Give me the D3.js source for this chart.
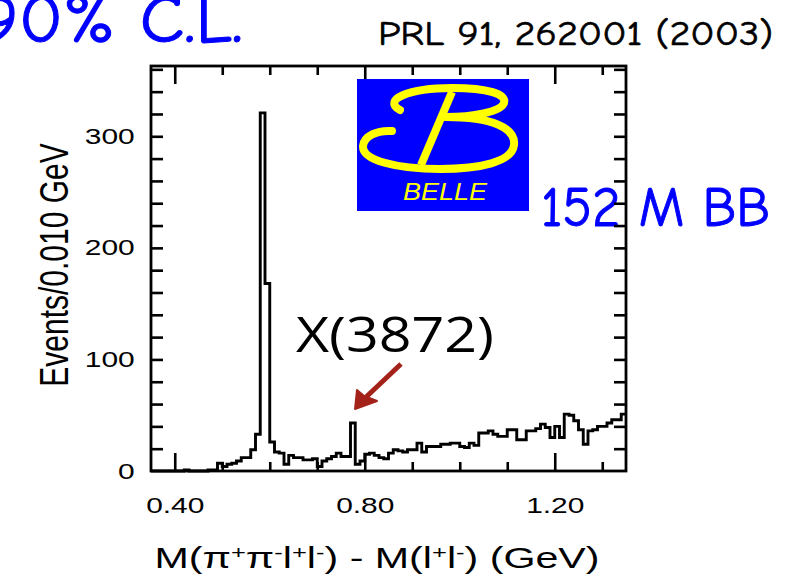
<!DOCTYPE html>
<html>
<head>
<meta charset="utf-8">
<script src="https://cdn.jsdelivr.net/npm/d3@7"></script>
<style>
  html, body { margin: 0; padding: 0; background: #fff; }
  svg { display: block; }
</style>
</head>
<body>
<svg id="chart" width="786" height="577"></svg>
<script>
// Histogram of M(pi+ pi- l+ l-) - M(l+ l-), 10 MeV bins from 0.35 GeV
const binLow = 0.35;
const binWidth = 0.010;
const counts = [
  0, 0, 0, 0, 0, 0, 0, 1, 0, 0,
  0, 0, 1, 1, 7, 4, 6, 7, 9, 12,
  12, 19, 33, 321, 168, 26, 17, 16, 6, 14,
  12, 12, 10, 10, 11, 4, 9, 11, 13, 16,
  13, 13, 43, 6, 9, 15, 16, 14, 12, 11,
  16, 19, 18, 17, 19, 19, 25, 17, 22, 22,
  22, 24, 24, 25, 25, 22, 21, 25, 23, 34,
  34, 36, 33, 31, 31, 37, 37, 28, 28, 36,
  36, 38, 42, 39, 30, 40, 30, 51, 50, 45,
  37, 24, 36, 37, 40, 40, 43, 46, 46, 51
];
const xDomain = [0.35, 1.35];
const yDomain = [0, 363];
const xMajorTicks = [0.40, 0.80, 1.20];
const xMinorTicks = [0.50, 0.60, 0.70, 0.90, 1.00, 1.10, 1.30];
const yLabelTicks = [0, 100, 200, 300];
const yMinorTicks = [20, 40, 60, 80, 100, 120, 140, 160, 180, 200, 220, 240, 260, 280, 300, 320, 340, 360];

const svg = d3.select("#chart");
const plot = { left: 151, right: 626, top: 66, bottom: 471 };
const x = d3.scaleLinear().domain(xDomain).range([plot.left, plot.right]);
const y = d3.scaleLinear().domain(yDomain).range([plot.bottom, plot.top]);
const SX = 1.36;               // horizontal stretch of the plot lettering
const axisFont = "'Liberation Sans', Arial, Helvetica, sans-serif";
const handFont = "'Comic Sans MS', 'Comic Neue', 'Open Sans', sans-serif";

// Slide annotations behind the frame
svg.append("text")
  .attr("x", 243).attr("y", 42)
  .attr("text-anchor", "end")
  .attr("font-family", handFont).attr("font-size", 68)
  .attr("fill", "#0000ff").attr("stroke", "#0000ff").attr("stroke-width", 1)
  .attr("textLength", 263).attr("lengthAdjust", "spacingAndGlyphs")
  .text("90% C.L.");

svg.append("text")
  .attr("x", 378).attr("y", 45)
  .attr("font-family", handFont).attr("font-size", 34)
  .attr("fill", "#000").attr("stroke", "#000").attr("stroke-width", 0.6)
  .attr("textLength", 395).attr("lengthAdjust", "spacingAndGlyphs")
  .text("PRL 91, 262001 (2003)");

svg.append("text")
  .attr("x", 541).attr("y", 226)
  .attr("font-family", handFont).attr("font-size", 56)
  .attr("fill", "#0000ff").attr("stroke", "#0000ff").attr("stroke-width", 1)
  .attr("textLength", 229).attr("lengthAdjust", "spacingAndGlyphs")
  .text("152 M BB");

// Histogram outline
const steps = counts.map((c, i) => [binLow + i * binWidth, c]);
steps.push([binLow + counts.length * binWidth, counts[counts.length - 1]]);
svg.append("path")
  .datum(steps)
  .attr("fill", "none")
  .attr("stroke", "#000")
  .attr("stroke-width", 2.9)
  .attr("d", d3.line().curve(d3.curveStepAfter).x(d => x(d[0])).y(d => y(d[1])));

// Axes: ticks point into the frame on all four sides
function styleAxis(g) {
  g.select(".domain").remove();
  g.selectAll(".tick line").attr("stroke", "#000").attr("stroke-width", 2.6);
}
svg.append("g").attr("transform", `translate(0,${plot.bottom})`)
  .call(d3.axisBottom(x).tickValues(xMinorTicks).tickSize(-9).tickFormat(""))
  .call(styleAxis);
svg.append("g").attr("transform", `translate(0,${plot.top})`)
  .call(d3.axisTop(x).tickValues(xMinorTicks).tickSize(-9).tickFormat(""))
  .call(styleAxis);
svg.append("g").attr("transform", `translate(0,${plot.top})`)
  .call(d3.axisTop(x).tickValues(xMajorTicks).tickSize(-18).tickFormat(""))
  .call(styleAxis);
const xAxis = svg.append("g").attr("transform", `translate(0,${plot.bottom})`)
  .call(d3.axisBottom(x).tickValues(xMajorTicks).tickSize(-18).tickPadding(26)
    .tickFormat(d3.format(".2f")))
  .call(styleAxis);
xAxis.selectAll(".tick text")
  .attr("font-family", axisFont).attr("font-size", 22).attr("fill", "#000")
  .attr("transform", `scale(${SX},1)`);

svg.append("g").attr("transform", `translate(${plot.right},0)`)
  .call(d3.axisRight(y).tickValues(yMinorTicks).tickSize(-12).tickFormat(""))
  .call(styleAxis);
svg.append("g").attr("transform", `translate(${plot.left},0)`)
  .call(d3.axisLeft(y).tickValues(yMinorTicks).tickSize(-12).tickFormat(""))
  .call(styleAxis);
const yAxis = svg.append("g").attr("transform", `translate(${plot.left},0)`)
  .call(d3.axisLeft(y).tickValues(yLabelTicks).tickSize(0).tickPadding(12)
    .tickFormat(d3.format("d")))
  .call(styleAxis);
yAxis.selectAll(".tick text")
  .attr("font-family", axisFont).attr("font-size", 22).attr("fill", "#000")
  .attr("transform", `scale(${SX},1)`);

// Frame
svg.append("rect")
  .attr("x", plot.left).attr("y", plot.top)
  .attr("width", plot.right - plot.left).attr("height", plot.bottom - plot.top)
  .attr("fill", "none").attr("stroke", "#000").attr("stroke-width", 2.8);

// Axis titles
svg.append("text")
  .attr("transform", `translate(68,265) scale(${SX},1) rotate(-90)`)
  .attr("text-anchor", "middle")
  .attr("font-family", axisFont).attr("font-size", 30).attr("fill", "#000")
  .text("Events/0.010 GeV");

const xt = svg.append("text")
  .attr("transform", `translate(377,568) scale(1.42,1)`)
  .attr("text-anchor", "middle")
  .attr("font-family", axisFont).attr("font-size", 29).attr("fill", "#000");
const xtParts = [
  ["M(\u03c0", false], ["+", true], ["\u03c0", false], ["-", true],
  ["l", false], ["+", true], ["l", false], ["-", true],
  [") - M(l", false], ["+", true], ["l", false], ["-", true], [") (GeV)", false]
];
xtParts.forEach(([t, sup]) => {
  xt.append("tspan")
    .attr("baseline-shift", sup ? "48%" : null)
    .attr("font-size", sup ? 18 : null)
    .text(t);
});

// Belle logo
const logo = svg.append("g");
logo.append("rect").attr("x", 357).attr("y", 79).attr("width", 172).attr("height", 132)
  .attr("fill", "#0000ff");
const yellow = "#ffff00";
logo.append("path")
  .attr("d", "M400,110 C382,100 408,88 452,88 C488,88 507,94 504,103 C501,112 472,117 446,117")
  .attr("fill", "none").attr("stroke", yellow).attr("stroke-width", 8).attr("stroke-linecap", "round");
logo.append("path")
  .attr("d", "M446,117 C492,117 516,128 514,145 C512,162 480,169 440,169 C396,169 362,160 363,146 C364,136 377,130 392,131")
  .attr("fill", "none").attr("stroke", yellow).attr("stroke-width", 8).attr("stroke-linecap", "round");
logo.append("path")
  .attr("d", "M452,92 L421,165")
  .attr("fill", "none").attr("stroke", yellow).attr("stroke-width", 8);
logo.append("text")
  .attr("x", 403).attr("y", 200)
  .attr("font-family", axisFont).attr("font-style", "italic").attr("font-size", 24)
  .attr("fill", yellow)
  .attr("textLength", 84).attr("lengthAdjust", "spacingAndGlyphs")
  .text("BELLE");

// X(3872) annotation
svg.append("text")
  .attr("x", 296).attr("y", 352)
  .attr("font-family", "'Open Sans', 'Liberation Sans', sans-serif").attr("font-size", 50)
  .attr("fill", "#000")
  .attr("textLength", 198).attr("lengthAdjust", "spacingAndGlyphs")
  .text("X(3872)");

const arrowColor = "#a3221a";
svg.append("line")
  .attr("x1", 401).attr("y1", 364).attr("x2", 364).attr("y2", 399)
  .attr("stroke", arrowColor).attr("stroke-width", 5);
svg.append("path")
  .attr("d", "M355,409 L357,390 L364,396 L377,401 Z")
  .attr("fill", arrowColor).attr("stroke", arrowColor).attr("stroke-width", 2)
  .attr("stroke-linejoin", "round");
</script>
</body>
</html>
